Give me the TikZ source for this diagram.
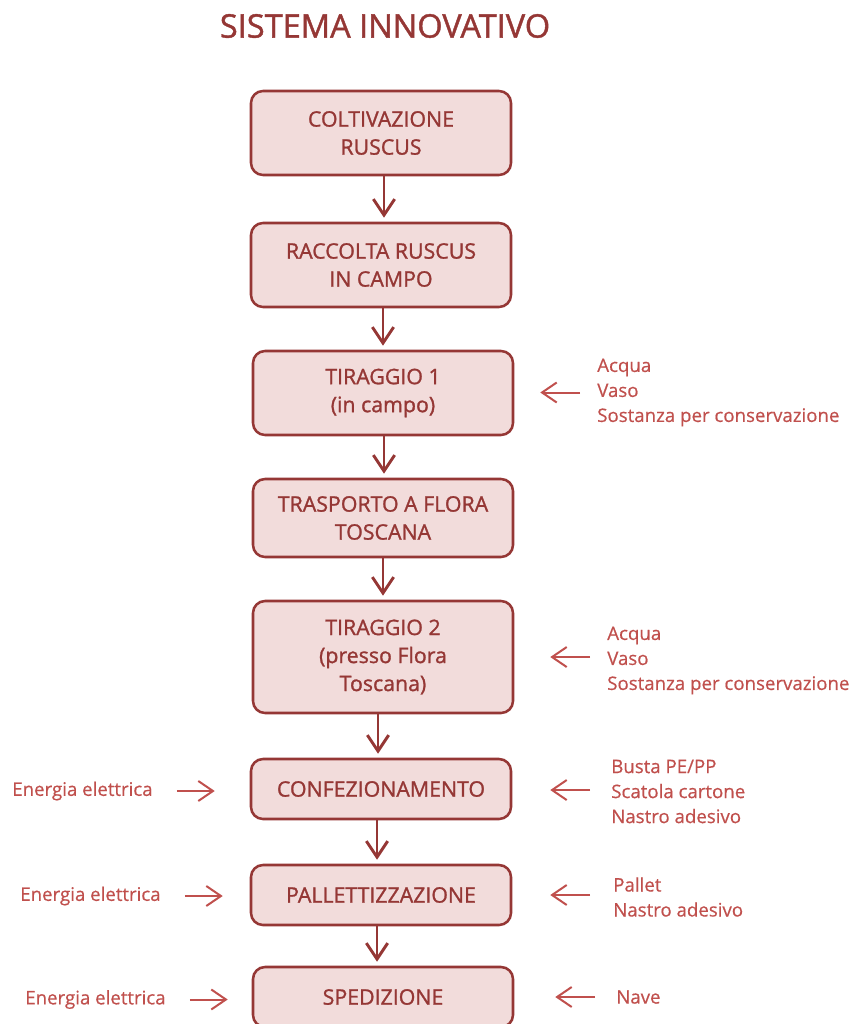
\documentclass[tikz,border=0pt]{standalone}
\usepackage{fontspec}
\setmainfont{Open Sans}
\newfontfamily\pesante{Open Sans}[FakeBold=1.2]
\newfontfamily\leggero{Open Sans}[FakeBold=0.5]
\usepackage{xcolor}
\usetikzlibrary{arrows.meta}
\definecolor{color_95373}{RGB}{149,55,53}
\definecolor{color_19280}{RGB}{192,80,77}
\definecolor{color_24222}{RGB}{242,220,219}

\begin{document}
\begin{tikzpicture}[x=0.75pt, y=-0.75pt,
		fase/.style={draw=color_95373, fill=color_24222, line width=1.9pt, rounded corners=9pt,
			minimum width=195pt, align=center, text=color_95373, font=\pesante\fontsize{16}{21}\selectfont},
		ingresso/.style={inner sep=0pt, align=left, text=color_19280, font=\leggero\fontsize{14}{18.75}\selectfont},
		flusso/.style={draw=color_95373, line width=2.2pt, -{Straight Barb[length=12pt,width=16pt]}, shorten >=3pt},
		freccia/.style={draw=color_19280, line width=1.5pt, -{Straight Barb[length=11pt,width=15pt]}}]
		\useasboundingbox (0,0) rectangle (850,1024);
		
		% Titolo
		\node (titolo) at (385,26) {\pesante\fontsize{24.4}{28}\selectfont\color{color_95373}SISTEMA INNOVATIVO};
		
		% Fasi del processo
		\node[fase, minimum height=63pt] (b1) at (381,133) {COLTIVAZIONE\\RUSCUS};
		\node[fase, minimum height=63pt] (b2) at (381,265) {RACCOLTA RUSCUS\\IN CAMPO};
		\node[fase, minimum height=63pt] (b3) at (383,393) {TIRAGGIO 1\\(in campo)};
		\node[fase, minimum height=58.5pt] (b4) at (383,518) {TRASPORTO A FLORA\\TOSCANA};
		\node[fase, minimum height=84pt] (b5) at (383,657) {TIRAGGIO 2\\(presso Flora\\Toscana)};
		\node[fase, minimum height=45pt] (b6) at (381,789) {CONFEZIONAMENTO};
		\node[fase, minimum height=45pt] (b7) at (381,895) {PALLETTIZZAZIONE};
		\node[fase, minimum height=45pt] (b8) at (383,997) {SPEDIZIONE};
		
		% Frecce verticali
		\draw[flusso] ([xshift=2.25pt]b1.south) -- ([xshift=2.25pt]b1.south |- b2.north);
		\draw[flusso] ([xshift=1.5pt]b2.south) -- ([xshift=1.5pt]b2.south |- b3.north);
		\draw[flusso] ([xshift=0.75pt]b3.south) -- ([xshift=0.75pt]b3.south |- b4.north);
		\draw[flusso] (b4.south) -- (b4.south |- b5.north);
		\draw[flusso] ([xshift=-3.75pt]b5.south) -- ([xshift=-3.75pt]b5.south |- b6.north);
		\draw[flusso] ([xshift=-3pt]b6.south) -- ([xshift=-3pt]b6.south |- b7.north);
		\draw[flusso] ([xshift=-3pt]b7.south) -- ([xshift=-3pt]b7.south |- b8.north);
		
		% Ingressi a destra
		\node[ingresso, anchor=west] (t1) at (597,392.5) {Acqua\\Vaso\\Sostanza per conservazione};
		\node[ingresso, anchor=west] (t2) at (607,660.5) {Acqua\\Vaso\\Sostanza per conservazione};
		\node[ingresso, anchor=west] (t3) at (611,791.5) {Busta PE/PP\\Scatola cartone\\Nastro adesivo};
		\node[ingresso, anchor=west] (t4) at (613,897) {Pallet\\Nastro adesivo};
		\node[ingresso, anchor=west] (t5) at (616,997) {Nave};
		
		\draw[freccia, shorten <=12.75pt, shorten >=19.5pt] (t1.west) -- (t1.west -| b3.east);
		\draw[freccia, shorten <=12.75pt, shorten >=27pt] ([yshift=2.6pt]t2.west) -- ([yshift=2.6pt]t2.west -| b5.east);
		\draw[freccia, shorten <=15.75pt, shorten >=28.5pt] ([yshift=1.1pt]t3.west) -- ([yshift=1.1pt]t3.west -| b6.east);
		\draw[freccia, shorten <=17.25pt, shorten >=28.5pt] ([yshift=1.5pt]t4.west) -- ([yshift=1.5pt]t4.west -| b7.east);
		\draw[freccia, shorten <=15.75pt, shorten >=30.75pt] (t5.west) -- (t5.west -| b8.east);
		
		% Energia a sinistra
		\node[ingresso, anchor=west] (e1) at (12,791) {Energia elettrica};
		\node[ingresso, anchor=west] (e2) at (20,896) {Energia elettrica};
		\node[ingresso, anchor=west] (e3) at (25,999.5) {Energia elettrica};
		
		\draw[freccia, shorten <=18pt, shorten >=26.25pt] (e1.east) -- (e1.east -| b6.west);
		\draw[freccia, shorten <=18pt, shorten >=20.25pt] (e2.east) -- (e2.east -| b7.west);
		\draw[freccia, shorten <=18pt, shorten >=18pt] (e3.east) -- (e3.east -| b8.west);
	\end{tikzpicture}
\end{document}
